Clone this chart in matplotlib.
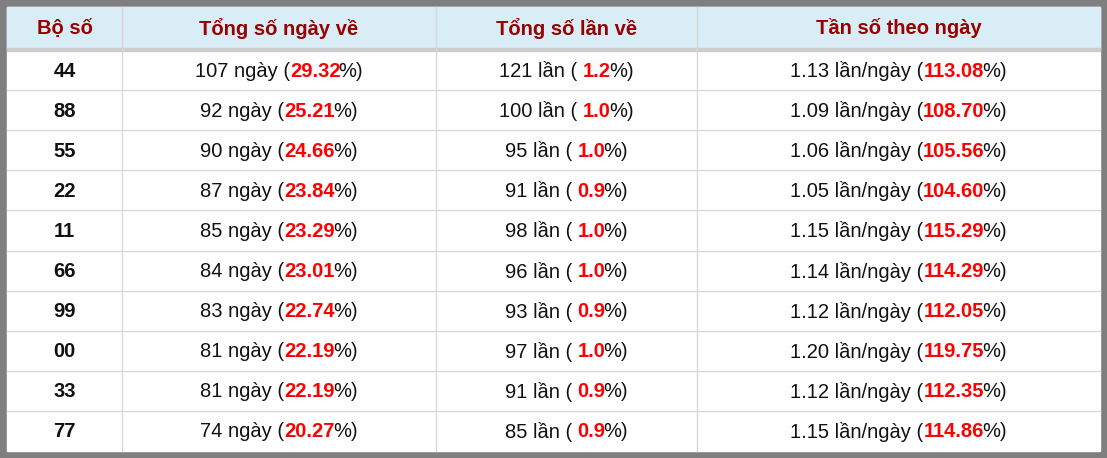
import matplotlib
matplotlib.use("Agg")
import matplotlib.pyplot as plt
from matplotlib.patches import Rectangle

headers = ["Bộ số", "Tổng số ngày về", "Tổng số lần về", "Tần số theo ngày"]
numbers = ["44", "88", "55", "22", "11", "66", "99", "00", "33", "77"]
days = [107, 92, 90, 87, 85, 84, 83, 81, 81, 74]
days_pct = ["29.32", "25.21", "24.66", "23.84", "23.29", "23.01", "22.74", "22.19", "22.19", "20.27"]
times = [121, 100, 95, 91, 98, 96, 93, 97, 91, 85]
times_pct = ["1.2", "1.0", "1.0", "0.9", "1.0", "1.0", "0.9", "1.0", "0.9", "0.9"]
freq = ["1.13", "1.09", "1.06", "1.05", "1.15", "1.14", "1.12", "1.20", "1.12", "1.15"]
freq_pct = ["113.08", "108.70", "105.56", "104.60", "115.29", "114.29", "112.05", "119.75", "112.35", "114.86"]

W, H = 1107, 458
fig = plt.figure(figsize=(W/100, H/100), dpi=100)
ax = fig.add_axes([0, 0, 1, 1])
ax.set_xlim(0, W); ax.set_ylim(H, 0); ax.axis("off")
FONT = "Liberation Sans"
FS = 14.5

ax.add_patch(Rectangle((0, 0), W, H, color="#7f7f7f"))
ax.add_patch(Rectangle((7, 7), W-14, H-14, color="white"))
cols = [7, 122, 436, 697, W-7]
top, hh, rh = 7, 41, 40.1
ax.add_patch(Rectangle((7, top), W-14, hh, color="#d9edf7"))
ax.add_patch(Rectangle((7, top+hh), W-14, 2.5, color="#cccccc"))
for x in cols[1:-1]:
    ax.plot([x, x], [top, H-7], color="#d8d8d8", lw=1)
y0 = top + hh + 2
for i in range(1, len(numbers)):
    y = y0 + i*rh
    ax.plot([7, W-7], [y, y], color="#d8d8d8", lw=1)

for j, h in enumerate(headers):
    ax.text((cols[j]+cols[j+1])/2, top+hh/2+1, h, ha="center", va="center",
            fontsize=FS, fontweight="bold", color="#990000", family=FONT)

fig.canvas.draw()
r = fig.canvas.get_renderer()
def seg_text(cx, cy, parts):
    arts, widths = [], []
    for s, c, b in parts:
        t = ax.text(0, cy, s, ha="left", va="center", fontsize=FS, color=c,
                    fontweight="bold" if b else "normal", family=FONT)
        widths.append(t.get_window_extent(r).width - (2 if b else 0))
        arts.append(t)
    total = sum(widths)
    x = cx - total/2
    for t, w in zip(arts, widths):
        t.set_x(x); x += w

red = "#ff0000"; blk = "#111111"
for i in range(len(numbers)):
    cy = y0 + (i+0.5)*rh + 1
    ax.text((cols[0]+cols[1])/2, cy, numbers[i], ha="center", va="center",
            fontsize=FS, fontweight="bold", color=blk, family=FONT)
    seg_text((cols[1]+cols[2])/2, cy, [(f"{days[i]} ngày (", blk, False), (days_pct[i], red, True), ("%)", blk, False)])
    seg_text((cols[2]+cols[3])/2, cy, [(f"{times[i]} lần ( ", blk, False), (times_pct[i], red, True), ("%)", blk, False)])
    seg_text((cols[3]+cols[4])/2, cy, [(f"{freq[i]} lần/ngày (", blk, False), (freq_pct[i], red, True), ("%)", blk, False)])

fig.savefig("out.png", dpi=100)
